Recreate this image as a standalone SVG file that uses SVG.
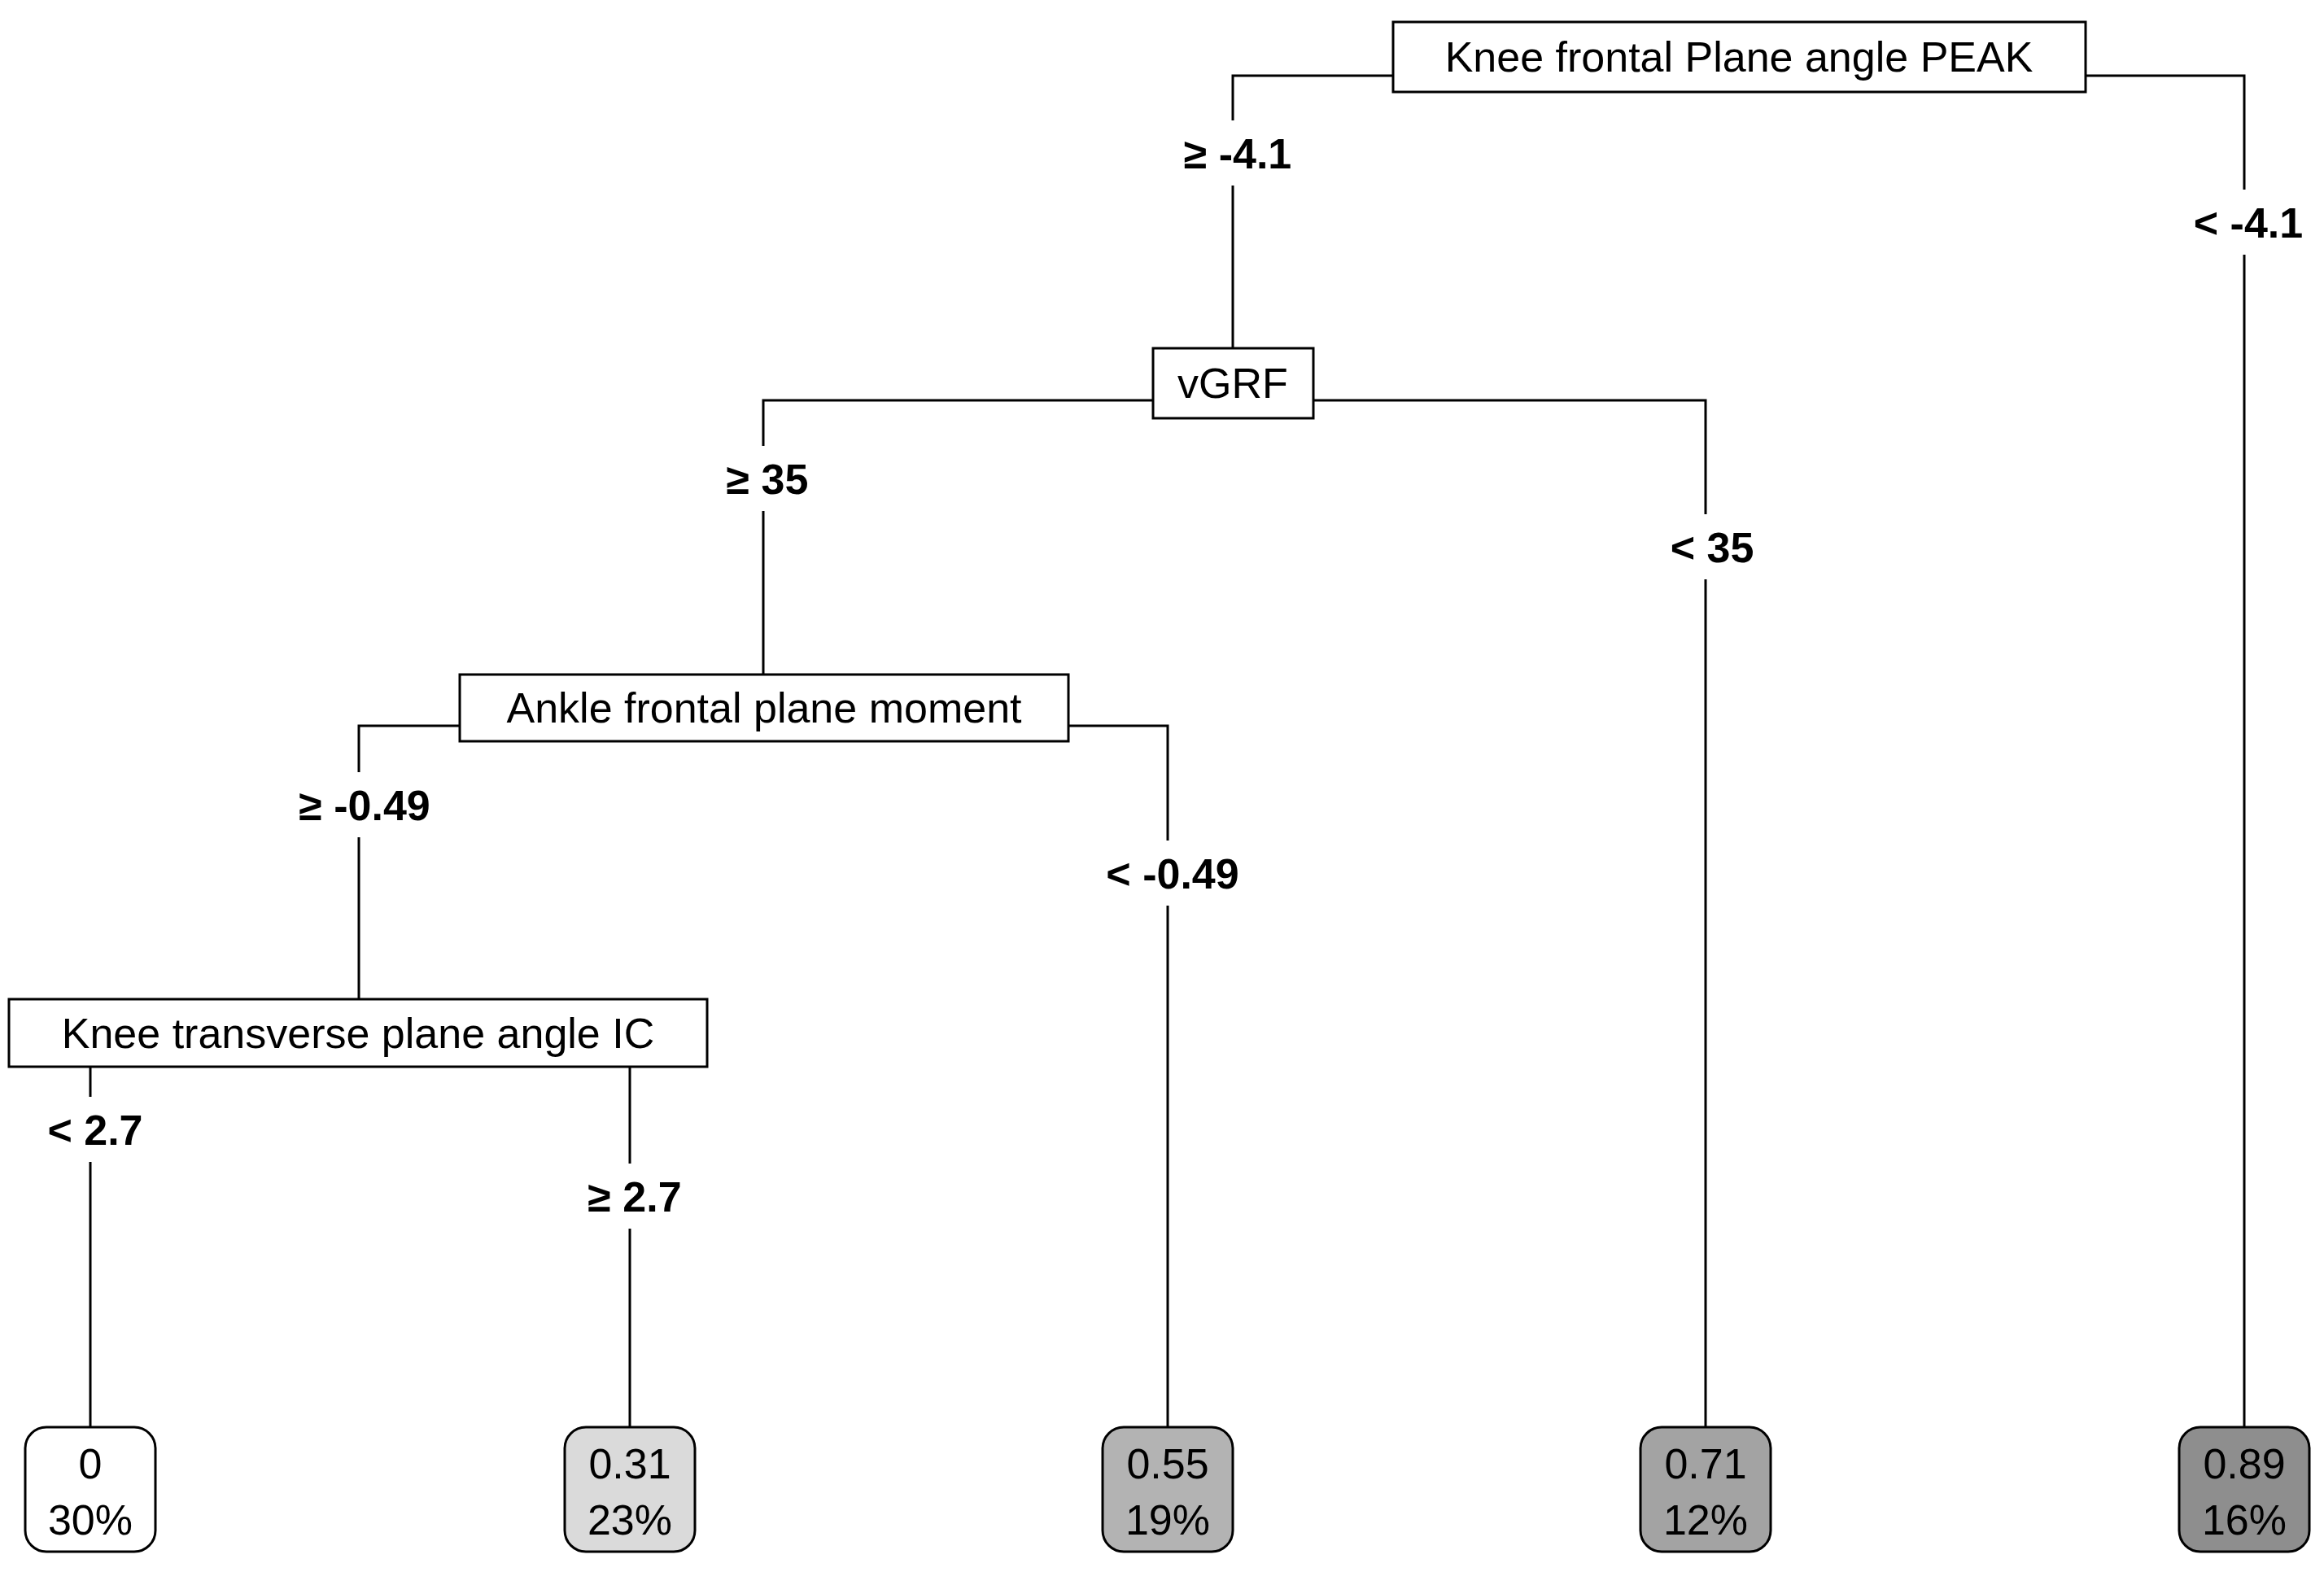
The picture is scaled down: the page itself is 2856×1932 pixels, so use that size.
<svg xmlns="http://www.w3.org/2000/svg" width="2856" height="1932" viewBox="0 0 2856 1932">
<style>
.b{fill:#fff;stroke:#000;stroke-width:3}
.t{font-family:"Liberation Sans",Arial,sans-serif;font-size:52px;text-anchor:middle;fill:#000}
.l{font-family:"Liberation Sans",Arial,sans-serif;font-size:52px;font-weight:bold;text-anchor:middle;fill:#000}
.c{fill:none;stroke:#000;stroke-width:3}
.w{fill:#fff}
.leaf{stroke:#000;stroke-width:3}
</style>
<rect width="2856" height="1932" fill="#fff"/>
<g id="connectors">
<polyline class="c" points="1515,428 1515,93 2758,93 2758,1754"/>
<polyline class="c" points="938,829 938,492 2096,492 2096,1754"/>
<polyline class="c" points="441,1228 441,892 1435,892 1435,1754"/>
<line class="c" x1="111" y1="1311" x2="111" y2="1754"/>
<line class="c" x1="774" y1="1311" x2="774" y2="1754"/>
<rect class="w" x="1440" y="148" width="160" height="80"/>
<text class="l" x="1521" y="207">≥ -4.1</text>
<rect class="w" x="2683" y="233" width="160" height="80"/>
<text class="l" x="2763" y="292">&lt; -4.1</text>
<rect class="w" x="878" y="548" width="130" height="80"/>
<text class="l" x="943" y="607">≥ 35</text>
<rect class="w" x="2036" y="632" width="130" height="80"/>
<text class="l" x="2104" y="691">&lt; 35</text>
<rect class="w" x="348" y="949" width="200" height="80"/>
<text class="l" x="448" y="1008">≥ -0.49</text>
<rect class="w" x="1341" y="1033" width="200" height="80"/>
<text class="l" x="1441" y="1092">&lt; -0.49</text>
<rect class="w" x="47" y="1348" width="140" height="80"/>
<text class="l" x="117" y="1407">&lt; 2.7</text>
<rect class="w" x="710" y="1430" width="140" height="80"/>
<text class="l" x="780" y="1489">≥ 2.7</text>
</g>
<g id="n_root"><rect class="b" x="1712" y="27" width="851" height="86"/><text class="t" x="2137" y="88">Knee frontal Plane angle PEAK</text></g>
<g id="n_vgrf"><rect class="b" x="1417" y="428" width="197" height="86"/><text class="t" x="1515" y="489">vGRF</text></g>
<g id="n_ankle"><rect class="b" x="565" y="829" width="748" height="82"/><text class="t" x="939" y="888">Ankle frontal plane moment</text></g>
<g id="n_kt"><rect class="b" x="11" y="1228" width="858" height="83"/><text class="t" x="440" y="1288">Knee transverse plane angle IC</text></g>
<g id="leaf1"><rect class="leaf" x="31" y="1754" width="160" height="153" rx="26" fill="#ffffff"/><text class="t" x="111" y="1817">0</text><text class="t" x="111" y="1886">30%</text></g>
<g id="leaf2"><rect class="leaf" x="694" y="1754" width="160" height="153" rx="26" fill="#dadada"/><text class="t" x="774" y="1817">0.31</text><text class="t" x="774" y="1886">23%</text></g>
<g id="leaf3"><rect class="leaf" x="1355" y="1754" width="160" height="153" rx="26" fill="#b3b3b3"/><text class="t" x="1435" y="1817">0.55</text><text class="t" x="1435" y="1886">19%</text></g>
<g id="leaf4"><rect class="leaf" x="2016" y="1754" width="160" height="153" rx="26" fill="#a3a3a3"/><text class="t" x="2096" y="1817">0.71</text><text class="t" x="2096" y="1886">12%</text></g>
<g id="leaf5"><rect class="leaf" x="2678" y="1754" width="160" height="153" rx="26" fill="#8e8e8e"/><text class="t" x="2758" y="1817">0.89</text><text class="t" x="2758" y="1886">16%</text></g>
</svg>
